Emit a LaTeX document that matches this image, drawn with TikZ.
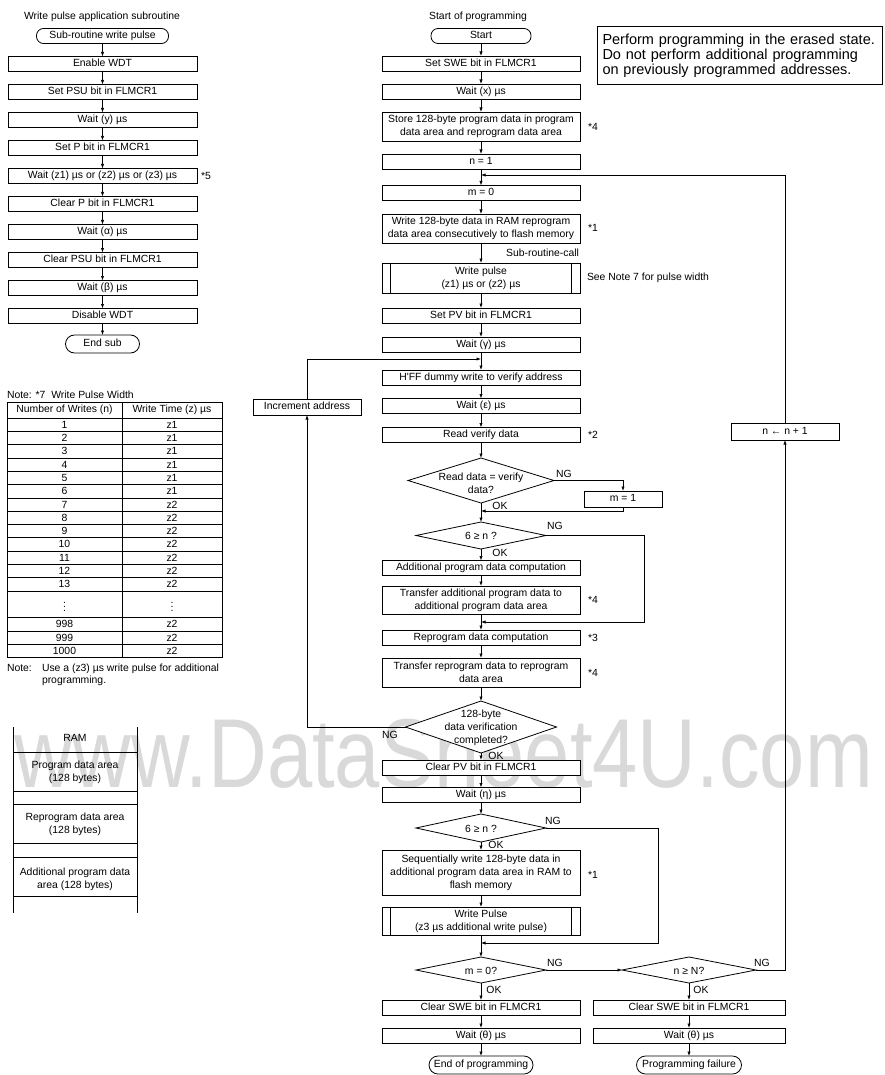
\documentclass[tikz,border=0pt]{standalone}
\usepackage{fontspec}
\setmainfont{Liberation Sans}
\usetikzlibrary{arrows.meta,shapes.geometric}
\newcommand{\myfs}{\fontsize{10.4}{13}\selectfont}
\begin{document}
\begin{tikzpicture}[x=1pt,y=-1pt,
 every node/.style={font=\myfs, inner sep=0pt, outer sep=0pt},
 lw/.style={line width=0.8pt},
 conn/.style={line width=0.6pt},
 cbox/.style={draw, fill=white, line width=0.8pt, minimum width=198pt, minimum height=15pt, align=center, text height=7.5pt, text depth=2.3pt},
 cboxm/.style={draw, fill=white, line width=0.8pt, minimum width=198pt, align=center},
 lbox/.style={cbox, minimum width=189pt},
 term/.style={draw, fill=white, line width=0.8pt, rounded corners=7pt, minimum height=15pt, text height=7.5pt, text depth=2.3pt},
 dia/.style={draw, fill=white, diamond, line width=0.8pt},
 dtext/.style={align=center},
 arr/.style={-{Latex[length=4.5pt,width=3.2pt]}, line width=0.6pt},
]
\useasboundingbox (0,0) rectangle (884,1075);
% watermark
\node[anchor=base west, text=black!15, font=\fontsize{98}{98}\selectfont] (wm) at (14,787) {\scalebox{0.83}[1]{www.DataSheet4U.com}};

% ---------------- left subroutine ----------------
\node (ltitle) at (102,17) {Write pulse application subroutine};
\node[term, minimum width=132pt] (lsub) at (102.5,36) {Sub-routine write pulse};
\node[lbox] (l1) at (102.5,64) {Enable WDT};
\node[lbox] (l2) at (102.5,92) {Set PSU bit in FLMCR1};
\node[lbox] (l3) at (102.5,120) {Wait (y) µs};
\node[lbox] (l4) at (102.5,148) {Set P bit in FLMCR1};
\node[lbox] (l5) at (102.5,176) {Wait (z1) µs or (z2) µs or (z3) µs};
\node[lbox] (l6) at (102.5,204) {Clear P bit in FLMCR1};
\node[lbox] (l7) at (102.5,232) {Wait (α) µs};
\node[lbox] (l8) at (102.5,260) {Clear PSU bit in FLMCR1};
\node[lbox] (l9) at (102.5,288) {Wait (β) µs};
\node[lbox] (l10) at (102.5,316) {Disable WDT};
\node[term, minimum width=74pt, minimum height=18pt, rounded corners=9pt] (lend) at (102.5,344) {End sub};
\node[anchor=west] (n5) at (201,176) {*5};
\draw[arr] (lsub) -- (l1);
\draw[arr] (l1) -- (l2);
\draw[arr] (l2) -- (l3);
\draw[arr] (l3) -- (l4);
\draw[arr] (l4) -- (l5);
\draw[arr] (l5) -- (l6);
\draw[arr] (l6) -- (l7);
\draw[arr] (l7) -- (l8);
\draw[arr] (l8) -- (l9);
\draw[arr] (l9) -- (l10);
\draw[arr] (l10) -- (lend);

% ---------------- table ----------------
\node[anchor=west] (tnote) at (7,395) {Note: *7\ \ Write Pulse Width};
\draw[line width=0.9pt] (7,402) rectangle (222,657.4);
\draw[conn] (122,402) -- (122,657.4);
\draw[conn] (7,418) -- (222,418);
\foreach \k in {1,...,13} \draw[conn] (7,{418+13.3*\k}) -- (222,{418+13.3*\k});
\foreach \yy in {617.5,630.8,644.1} \draw[conn] (7,\yy) -- (222,\yy);
\node (th1) at (64.5,410) {Number of Writes (n)};
\node (th2) at (172,410) {Write Time (z) µs};
\foreach \n/\z in {1/z1,2/z1,3/z1,4/z1,5/z1,6/z1,7/z2,8/z2,9/z2,10/z2,11/z2,12/z2,13/z2} {
  \node (tn\n) at (64.5,{418+13.3*(\n-0.5)}) {\n};
  \node (tz\n) at (172,{418+13.3*(\n-0.5)}) {\z};
}
\node (tdots1) at (64.5,604.2) {$\vdots$};
\node (tdots2) at (172,604.2) {$\vdots$};
\node (tn998) at (64.5,624.15) {998};
\node (tz998) at (172,624.15) {z2};
\node (tn999) at (64.5,637.45) {999};
\node (tz999) at (172,637.45) {z2};
\node (tn1000) at (64.5,650.75) {1000};
\node (tz1000) at (172,650.75) {z2};
\node[anchor=base west] (unote1) at (7,671) {Note:};
\node[anchor=base west] (unote2) at (42,671) {Use a (z3) µs write pulse for additional};
\node[anchor=base west] (unote3) at (42,683) {programming.};

% ---------------- RAM ----------------
\draw[lw] (13,727) -- (13,913);
\draw[lw] (137,727) -- (137,913);
\foreach \yy in {752,791,804,843,857,896} \draw[lw] (13,\yy) -- (137,\yy);
\node (ram) at (75,738) {RAM};
\node[align=center] (ram1) at (75,772) {Program data area\\(128 bytes)};
\node[align=center] (ram2) at (75,824) {Reprogram data area\\(128 bytes)};
\node[align=center] (ram3) at (75,879) {Additional program data\\area (128 bytes)};

% ---------------- note box ----------------
\node[draw, line width=1.8pt, minimum width=285pt, minimum height=58pt, text width=275pt, align=left, inner sep=4pt, font=\fontsize{14.5}{15.2}\selectfont] (note) at (740,55.5)
 {Perform programming in the erased state.\\Do not perform additional programming\\on previously programmed addresses.};

% ---------------- main column ----------------
\node (ctitle) at (478,17) {Start of programming};
\node[term, minimum width=100pt] (start) at (481,36) {Start};
\node[cbox] (swe) at (481,63.5) {Set SWE bit in FLMCR1};
\node[cbox] (wx) at (481,91.5) {Wait (x) µs};
\node[cboxm, minimum height=29pt] (store) at (481,126.5) {Store 128-byte program data in program\\data area and reprogram data area};
\node[cbox] (n1) at (481,161.5) {n = 1};
\node[cbox] (m0) at (481,193) {m = 0};
\node[cboxm, minimum height=29pt] (w128) at (481,228.5) {Write 128-byte data in RAM reprogram\\data area consecutively to flash memory};
\node[cboxm, minimum height=30pt] (wp) at (481,278) {Write pulse\\(z1) µs or (z2) µs};
\node[cbox] (spv) at (481,315.5) {Set PV bit in FLMCR1};
\node[cbox] (wg) at (481,344.5) {Wait (γ) µs};
\node[cbox] (hff) at (481,377.5) {H\textquotesingle FF dummy write to verify address};
\node[cbox] (we) at (481,406) {Wait (ε) µs};
\node[cbox] (rvd) at (481,435) {Read verify data};
\node[dia, minimum width=146pt, minimum height=45pt] (d1) at (481,480.5) {};
\node[dtext] (d1t) at (481,483) {Read data = verify\\data?};
\node[cbox, minimum width=78pt, minimum height=16pt] (m1) at (623,499) {m = 1};
\node[dia, minimum width=130pt, minimum height=27pt] (d2) at (481,535.5) {};
\node (d2t) at (481,536) {6 ≥ n ?};
\node[cbox] (apc) at (481,568) {Additional program data computation};
\node[cboxm, minimum height=28pt] (tap) at (481,600) {Transfer additional program data to\\additional program data area};
\node[cbox] (rpc) at (481,637.5) {Reprogram data computation};
\node[cboxm, minimum height=29pt] (trp) at (481,672.5) {Transfer reprogram data to reprogram\\data area};
\node[dia, minimum width=151pt, minimum height=52pt] (d3) at (481,727) {};
\node[dtext] (d3t) at (481,727.5) {128-byte\\data verification\\completed?};
\node[cbox] (cpv) at (481,767.5) {Clear PV bit in FLMCR1};
\node[cbox] (weta) at (481,795) {Wait (η) µs};
\node[dia, minimum width=130pt, minimum height=28pt] (d4) at (481,828) {};
\node (d4t) at (481,828.5) {6 ≥ n ?};
\node[cboxm, minimum height=45pt] (seq) at (481,872.5) {Sequentially write 128-byte data in\\additional program data area in RAM to\\flash memory};
\node[cboxm, minimum height=28pt] (wp3) at (481,921) {Write Pulse\\(z3 µs additional write pulse)};
\node[dia, minimum width=130pt, minimum height=26pt] (d5) at (481,970) {};
\node (d5t) at (481,970.5) {m = 0?};
\node[cbox] (csw1) at (481,1007.5) {Clear SWE bit in FLMCR1};
\node[cbox] (wt1) at (481,1035.5) {Wait (θ) µs};
\node[term, minimum width=104pt, minimum height=18pt, rounded corners=9pt] (end1) at (481,1065) {End of programming};

% right column
\node[dia, minimum width=134pt, minimum height=26pt] (d6) at (689,970) {};
\node (d6t) at (689,970.5) {n ≥ N?};
\node[cbox, minimum width=192pt] (csw2) at (689,1007.5) {Clear SWE bit in FLMCR1};
\node[cbox, minimum width=192pt] (wt2) at (689,1035.5) {Wait (θ) µs};
\node[term, minimum width=105pt, minimum height=18pt, rounded corners=9pt] (fail) at (689,1065) {Programming failure};
\node[cbox, minimum width=108pt, minimum height=17pt] (inc) at (785,431.5) {n ← n + 1};
\node[cbox, minimum width=108pt, minimum height=16pt] (incaddr) at (307,407) {Increment address};

% predefined process side lines
\draw[lw] ([xshift=8.5pt]wp.north west) -- ([xshift=8.5pt]wp.south west);
\draw[lw] ([xshift=-8.5pt]wp.north east) -- ([xshift=-8.5pt]wp.south east);
\draw[lw] ([xshift=8.5pt]wp3.north west) -- ([xshift=8.5pt]wp3.south west);
\draw[lw] ([xshift=-8.5pt]wp3.north east) -- ([xshift=-8.5pt]wp3.south east);

% side notes
\node[anchor=west] (s1) at (588,126.5) {*4};
\node[anchor=west] (s2) at (588,228) {*1};
\node[anchor=east] (src) at (579,253) {Sub-routine-call};
\node[anchor=west] (s3) at (587,277.5) {See Note 7 for pulse width};
\node[anchor=west] (s4) at (588,435) {*2};
\node[anchor=west] (s5) at (588,600) {*4};
\node[anchor=west] (s6) at (588,637.5) {*3};
\node[anchor=west] (s7) at (588,672.5) {*4};
\node[anchor=west] (s8) at (588,875) {*1};

% junction coordinates
\coordinate (j1) at (481,175);
\coordinate (j2) at (481,359);
\coordinate (j5) at (481,511);
\coordinate (j3) at (481,622);
\coordinate (j4) at (481,943);

% main arrows
\draw[arr] (start) -- (swe);
\draw[arr] (swe) -- (wx);
\draw[arr] (wx) -- (store);
\draw[arr] (store) -- (n1);
\draw[arr] (n1) -- (m0);
\draw[arr] (m0) -- (w128);
\draw[arr] (w128) -- (wp);
\draw[arr] (wp) -- (spv);
\draw[arr] (spv) -- (wg);
\draw[arr] (wg) -- (hff);
\draw[arr] (hff) -- (we);
\draw[arr] (we) -- (rvd);
\draw[arr] (rvd) -- (d1);
\draw[arr] (d1) -- (d2);
\draw[arr] (d2) -- (apc);
\draw[arr] (apc) -- (tap);
\draw[arr] (tap) -- (rpc);
\draw[arr] (rpc) -- (trp);
\draw[arr] (trp) -- (d3);
\draw[arr] (d3) -- (cpv);
\draw[arr] (cpv) -- (weta);
\draw[arr] (weta) -- (d4);
\draw[arr] (d4) -- (seq);
\draw[arr] (seq) -- (wp3);
\draw[arr] (wp3) -- (d5);
\draw[arr] (d5) -- (csw1);
\draw[arr] (csw1) -- (wt1);
\draw[arr] (wt1) -- (end1);
\draw[arr] (d6) -- (csw2);
\draw[arr] (csw2) -- (wt2);
\draw[arr] (wt2) -- (fail);

% branch connectors
\draw[arr] (d1.east) -| (m1.north);
\draw[arr] (m1.south) |- (j5);
\draw[arr] (d2.east) -- ++(98,0) |- (j3);
\draw[arr] (d3.west) -| (incaddr.south);
\draw[arr] (incaddr.north) |- (j2);
\draw[arr] (d4.east) -- ++(112,0) |- (j4);
\draw[arr] (d5.east) -- (d6.west);
\draw[arr] (d6.east) -| (inc.south);
\draw[arr] (inc.north) |- (j1);

% OK / NG labels
\node (ng1) at (564,474) {NG};
\node (ok1) at (500,506) {OK};
\node (ng2) at (555,526) {NG};
\node (ok2) at (500,553) {OK};
\node (ng3) at (390,735) {NG};
\node (ok3) at (496,756) {OK};
\node (ng4) at (553,821) {NG};
\node (ok4) at (496,845) {OK};
\node (ng5) at (555,963) {NG};
\node (ok5) at (494,990) {OK};
\node (ng6) at (762,963) {NG};
\node (ok6) at (701,990) {OK};
\end{tikzpicture}
\end{document}
